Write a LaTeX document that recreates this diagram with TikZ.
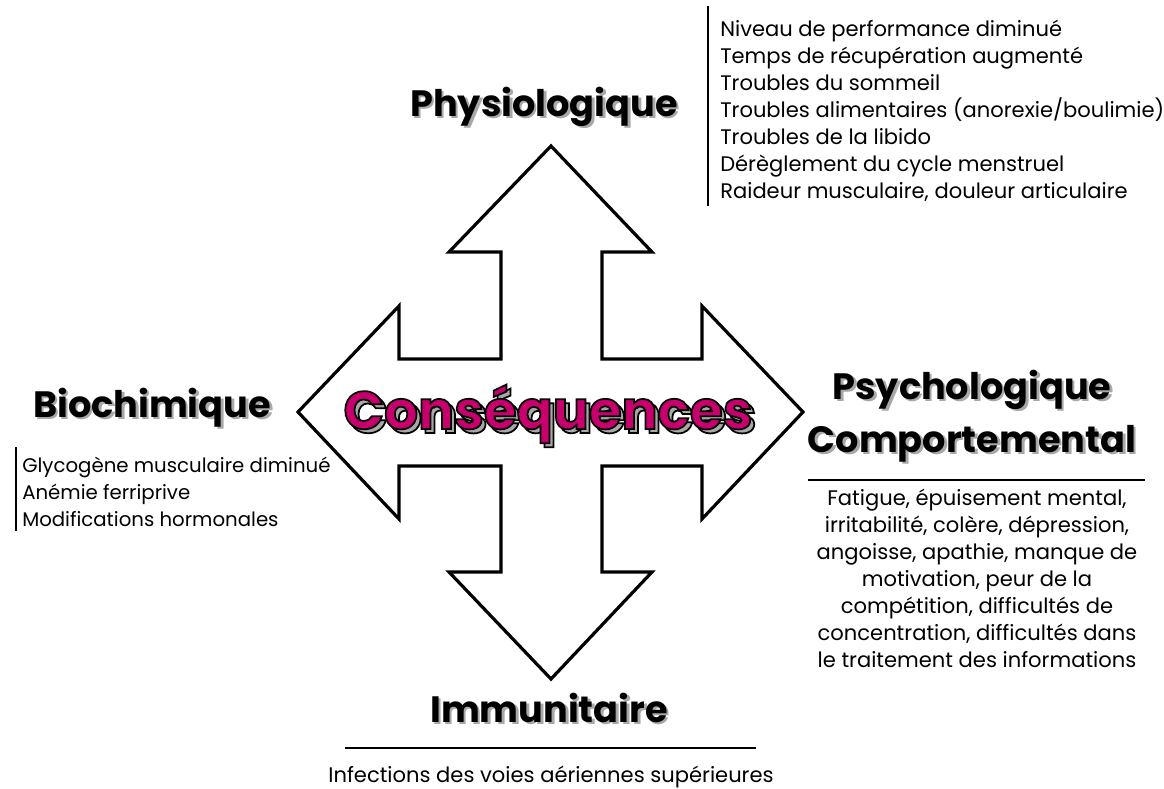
\documentclass[tikz,border=0pt]{standalone}
\usepackage{fontspec}
\setmainfont{Poppins}
\usepackage{xcolor}
\usepackage{tikz}
\usetikzlibrary{positioning}
\definecolor{consmagenta}{HTML}{C8006E}
\definecolor{shadowgray}{HTML}{A8A8A8}
\tikzset{
  title/.style={font=\bfseries\fontsize{27.5}{32}\selectfont, inner sep=0pt, anchor=base},
  conslabel/.style={font=\bfseries\fontsize{40}{48}\selectfont, inner sep=0pt, anchor=base},
  itemlist/.style={font=\fontsize{15.8}{20.25}\selectfont, inner sep=0pt},
  rule/.style={line width=1pt},
  bigarrow/.style={line width=2.4pt, line join=miter, fill=white},
}
% fill the glyphs and stroke them in black
\newcommand{\strokedtext}[1]{%
  \special{pdf:literal direct 0 G 1.3 w 2 Tr}#1\special{pdf:literal direct 0 Tr}}
\newcommand{\shadowtitle}[4]{%
  \node[title, text=shadowgray, xshift=2pt, yshift=-2pt] (#1s) at (#2,#3) {#4};
  \node[title] (#1) at (#2,#3) {#4};
}
\newcommand{\outlinedlabel}[4]{%
  \node[conslabel, text=shadowgray, xshift=3pt, yshift=-3pt] (#1s) at (#2,#3) {\strokedtext{#4}};
  \node[conslabel, text=consmagenta] (#1) at (#2,#3) {\strokedtext{#4}};
}

\begin{document}
\begin{tikzpicture}[x=0.75pt, y=-0.75pt]
  \useasboundingbox (0,0) rectangle (1164,789);

  % Four-way arrow
  \draw[bigarrow] (551,146) -- (652,252) -- (602,252) -- (602,359) -- (702,359) -- (702,306)
    -- (803,412) -- (702,519) -- (702,466) -- (602,466) -- (602,572) -- (652,572)
    -- (551,679) -- (449,572) -- (501,572) -- (501,466) -- (399,466) -- (399,519)
    -- (298,412) -- (399,306) -- (399,359) -- (501,359) -- (501,252) -- (449,252) -- cycle;
  \outlinedlabel{cons}{548}{429}{Conséquences}

  % Physiologique
  \shadowtitle{physio}{544}{116}{Physiologique}
  \draw[rule] (708,6) -- (708,206);
  \node[itemlist, align=left, anchor=north west] (physiolist) at (720,20) {%
    Niveau de performance diminué\\
    Temps de récupération augmenté\\
    Troubles du sommeil\\
    Troubles alimentaires (anorexie/boulimie)\\
    Troubles de la libido\\
    Dérèglement du cycle menstruel\\
    Raideur musculaire, douleur articulaire};

  % Biochimique
  \shadowtitle{bioch}{152}{417}{Biochimique}
  \draw[rule] (16,447) -- (16,531);
  \node[itemlist, font=\fontsize{14.8}{20.25}\selectfont, align=left, anchor=north west]
    (biochlist) at (22,457) {%
    Glycogène musculaire diminué\\
    Anémie ferriprive\\
    Modifications hormonales};

  % Psychologique / Comportemental
  \shadowtitle{psych}{972}{399}{Psychologique}
  \shadowtitle{compo}{972}{452}{Comportemental}
  \draw[rule] (808,480) -- (1145,480);
  \node[itemlist, align=center, anchor=north] (psychlist) at (977,489) {%
    Fatigue, épuisement mental,\\
    irritabilité, colère, dépression,\\
    angoisse, apathie, manque de\\
    motivation, peur de la\\
    compétition, difficultés de\\
    concentration, difficultés dans\\
    le traitement des informations};

  % Immunitaire
  \shadowtitle{immun}{549}{722}{Immunitaire}
  \draw[rule] (345,748) -- (756,748);
  \node[itemlist, anchor=base] (immunlist) at (551,782) {Infections des voies aériennes supérieures};
\end{tikzpicture}
\end{document}
